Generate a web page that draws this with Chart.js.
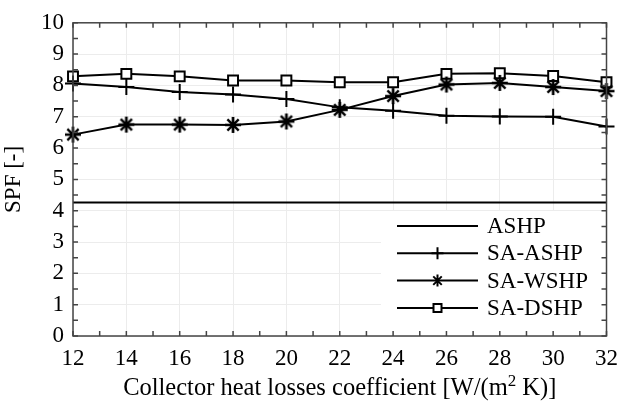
<!DOCTYPE html>
<html lang="en">
<head>
    <meta charset="UTF-8">
    <title>SPF vs collector heat losses coefficient</title>
    <script src="https://cdn.jsdelivr.net/npm/chart.js"></script>
    <style>
      body { margin: 0; background: #fff; }
      #wrap { width: 627px; height: 408px; }
    </style>
</head>
<body>
    <div id="wrap"><canvas id="myChart"></canvas></div>

    <script>
        // data
        const xValues = [12, 14, 16, 18, 20, 22, 24, 26, 28, 30, 32];
        const ashp   = [4.26, 4.26, 4.26, 4.26, 4.26, 4.26, 4.26, 4.26, 4.26, 4.26, 4.26];
        const saAshp = [8.06, 7.95, 7.79, 7.71, 7.57, 7.30, 7.19, 7.03, 7.01, 7.00, 6.69];
        const saWshp = [6.43, 6.75, 6.75, 6.74, 6.85, 7.22, 7.66, 8.03, 8.08, 7.95, 7.82];
        const saDshp = [8.29, 8.37, 8.29, 8.16, 8.16, 8.10, 8.10, 8.37, 8.39, 8.30, 8.10];
        const seriesNames = ['ASHP', 'SA-ASHP', 'SA-WSHP', 'SA-DSHP'];

        const FONT = 'Liberation Serif';
        const FSIZE = 23;
        const toPoints = ys => xValues.map((x, i) => ({x: x, y: ys[i]}));

        function marker(ctx, style, x, y, r) {
            ctx.beginPath();
            if (style === 'cross') {
                ctx.moveTo(x - r, y); ctx.lineTo(x + r, y);
                ctx.moveTo(x, y - r); ctx.lineTo(x, y + r);
                ctx.stroke();
            } else if (style === 'star') {
                const d = r * Math.SQRT1_2;
                ctx.moveTo(x, y - r); ctx.lineTo(x, y + r);
                ctx.moveTo(x - d, y - d); ctx.lineTo(x + d, y + d);
                ctx.moveTo(x - d, y + d); ctx.lineTo(x + d, y - d);
                ctx.stroke();
            } else if (style === 'rect') {
                ctx.rect(x - r, y - r, 2 * r, 2 * r);
                ctx.fillStyle = '#fff';
                ctx.fill();
                ctx.stroke();
            }
        }

        // legend with line + marker, like the original
        const lineLegend = {
            id: 'lineLegend',
            afterDatasetsDraw(chart) {
                const {ctx} = chart;
                const styles = ['none', 'cross', 'star', 'rect'];
                const sizes = [0, 6, 6, 4];
                ctx.save();
                ctx.fillStyle = '#fff';
                ctx.fillRect(381, 211, 233, 120);
                ctx.strokeStyle = '#000';
                ctx.lineWidth = 2;
                ctx.font = FSIZE + 'px "' + FONT + '"';
                ctx.textBaseline = 'middle';
                seriesNames.forEach((name, i) => {
                    const y = 226 + i * 27.3;
                    ctx.beginPath();
                    ctx.moveTo(397, y); ctx.lineTo(478, y);
                    ctx.stroke();
                    marker(ctx, styles[i], 437.5, y, sizes[i]);
                    ctx.fillStyle = '#000';
                    ctx.fillText(name, 487, y + 1);
                });
                ctx.restore();
            }
        };

        // x axis title with a real superscript
        const xTitle = {
            id: 'xTitle',
            afterDraw(chart) {
                const {ctx, chartArea: a} = chart;
                const size = 24.5;
                const big = size + 'px "' + FONT + '"';
                const small = Math.round(size * 0.7) + 'px "' + FONT + '"';
                const parts = [
                    ['Collector heat losses coefficient [W/(m', big, 0],
                    ['2', small, -9],
                    [' K)]', big, 0]
                ];
                ctx.save();
                ctx.fillStyle = '#000';
                ctx.textBaseline = 'alphabetic';
                let total = 0;
                parts.forEach(p => { ctx.font = p[1]; total += ctx.measureText(p[0]).width; });
                let x = (a.left + a.right) / 2 - total / 2;
                const y = 395;
                parts.forEach(p => {
                    ctx.font = p[1];
                    ctx.fillText(p[0], x, y + p[2]);
                    x += ctx.measureText(p[0]).width;
                });
                ctx.restore();
            }
        };

        // box frame with inward major and minor ticks
        const boxTicks = {
            id: 'boxTicks',
            afterDraw(chart) {
                const {ctx, chartArea: a, scales} = chart;
                const xs = scales.x, ys = scales.y;
                const len = 5;
                ctx.save();
                ctx.strokeStyle = '#444';
                ctx.lineWidth = 1.5;
                ctx.strokeRect(a.left, a.top, a.right - a.left, a.bottom - a.top);
                ctx.beginPath();
                for (let v = 12; v <= 32; v += 1) {
                    const px = xs.getPixelForValue(v);
                    ctx.moveTo(px, a.bottom); ctx.lineTo(px, a.bottom - len);
                    ctx.moveTo(px, a.top); ctx.lineTo(px, a.top + len);
                }
                for (let v = 0; v <= 10; v += 0.5) {
                    const py = ys.getPixelForValue(v);
                    ctx.moveTo(a.left, py); ctx.lineTo(a.left + len, py);
                    ctx.moveTo(a.right, py); ctx.lineTo(a.right - len, py);
                }
                ctx.stroke();
                ctx.restore();
            }
        };

        // MATLAB-like asterisk marker (8 arms, bolder)
        const starCanvas = (() => {
            const c = document.createElement('canvas');
            c.width = 20; c.height = 20;
            const g = c.getContext('2d');
            g.strokeStyle = '#000';
            g.lineWidth = 2.4;
            marker(g, 'cross', 10, 10, 8);
            marker(g, 'star', 10, 10, 8);
            return c;
        })();

        const lineStyle = (label, ys, pointStyle, radius) => ({
            label: label,
            data: toPoints(ys),
            borderColor: '#000',
            borderWidth: 2,
            backgroundColor: '#fff',
            pointStyle: pointStyle,
            pointRadius: radius,
            pointBorderWidth: 2,
            pointBorderColor: '#000',
            pointBackgroundColor: '#fff',
            tension: 0,
            clip: false
        });

        const config = {
            type: 'line',
            data: {
                datasets: [
                    lineStyle(seriesNames[0], ashp, false, 0),
                    lineStyle(seriesNames[1], saAshp, 'cross', 8),
                    lineStyle(seriesNames[2], saWshp, starCanvas, 8),
                    lineStyle(seriesNames[3], saDshp, 'rect', 7)
                ]
            },
            options: {
                responsive: true,
                maintainAspectRatio: false,
                animation: false,
                layout: { padding: { top: 19, right: 12, left: 0, bottom: 0 } },
                plugins: {
                    legend: { display: false },
                    tooltip: { enabled: false }
                },
                scales: {
                    x: {
                        type: 'linear',
                        min: 12,
                        max: 32,
                        border: { display: false },
                        grid: { color: '#ececec', lineWidth: 1, drawTicks: false },
                        ticks: {
                            stepSize: 2,
                            padding: 9,
                            color: '#000',
                            maxRotation: 0,
                            font: { family: FONT, size: FSIZE }
                        },
                        afterFit(scale) { scale.height = 72; }
                    },
                    y: {
                        min: 0,
                        max: 10,
                        border: { display: false },
                        grid: { color: '#ececec', lineWidth: 1, drawTicks: false },
                        ticks: {
                            stepSize: 1,
                            padding: 9,
                            color: '#000',
                            font: { family: FONT, size: FSIZE }
                        },
                        title: {
                            display: true,
                            text: 'SPF [-]',
                            color: '#000',
                            padding: { top: 0, bottom: 2 },
                            font: { family: FONT, size: FSIZE }
                        },
                        afterFit(scale) { scale.width = 73; }
                    }
                }
            },
            plugins: [lineLegend, boxTicks, xTitle]
        };

        new Chart(document.getElementById('myChart'), config);
    </script>
</body>
</html>
